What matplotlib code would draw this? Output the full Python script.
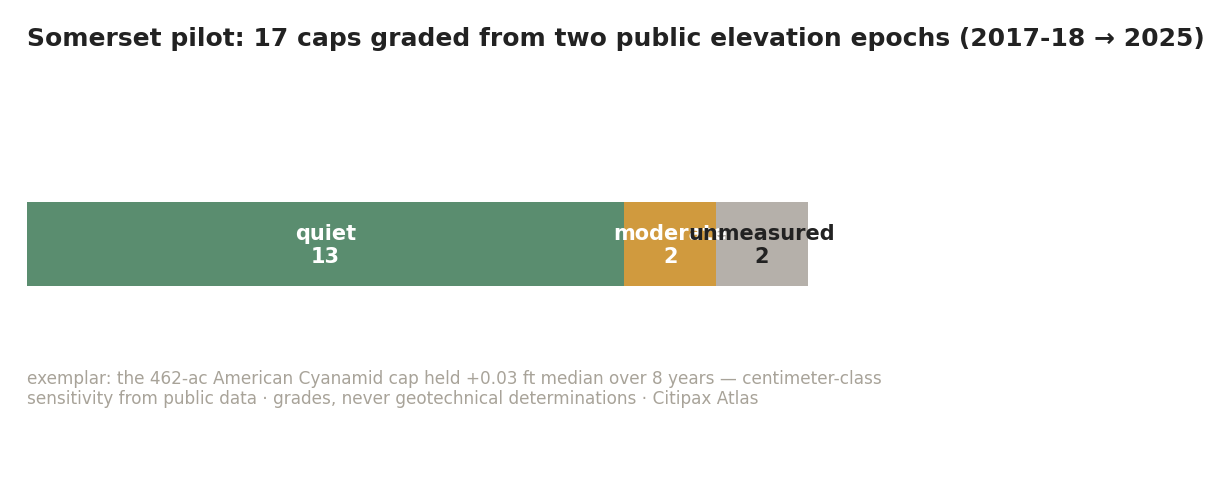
import matplotlib.pyplot as plt

categories = ['quiet', 'moderate', 'unmeasured']
counts = [13, 2, 2]
colors = ['#5a8d6f', '#d09a3e', '#b5b0aa']
label_colors = ['white', 'white', '#222222']

fig = plt.figure(figsize=(12.31, 4.89), dpi=100)
W, H = 1231, 489

# axes covers the bar only
ax = fig.add_axes([27 / W, 1 - 286.5 / H, (808 - 27) / W, (286 - 202) / H])
left = 0
for cat, n, c, lc in zip(categories, counts, colors, label_colors):
    ax.barh(0, n, left=left, color=c, height=1.0)
    ax.text(left + n / 2, -0.015, f'{cat}\n{n}', ha='center', va='center',
            color=lc, fontsize=15, fontweight='bold', linespacing=1.2)
    left += n
ax.set_xlim(0, sum(counts))
ax.set_ylim(-0.5, 0.5)
ax.axis('off')

fig.text(27 / W, 1 - 39 / H, 'Somerset pilot: 17 caps graded from two public elevation epochs (2017-18 \u2192 2025)',
         fontsize=18.0, fontweight='bold', color='#222222', va='center', ha='left')

fig.text(27 / W, 1 - 389 / H,
         'exemplar: the 462-ac American Cyanamid cap held +0.03 ft median over 8 years \u2014 centimeter-class\n'
         'sensitivity from public data \u00b7 grades, never geotechnical determinations \u00b7 Citipax Atlas',
         fontsize=12.2, color='#a8a399', va='center', ha='left', linespacing=1.2)

fig.savefig('out.png', dpi=100)
